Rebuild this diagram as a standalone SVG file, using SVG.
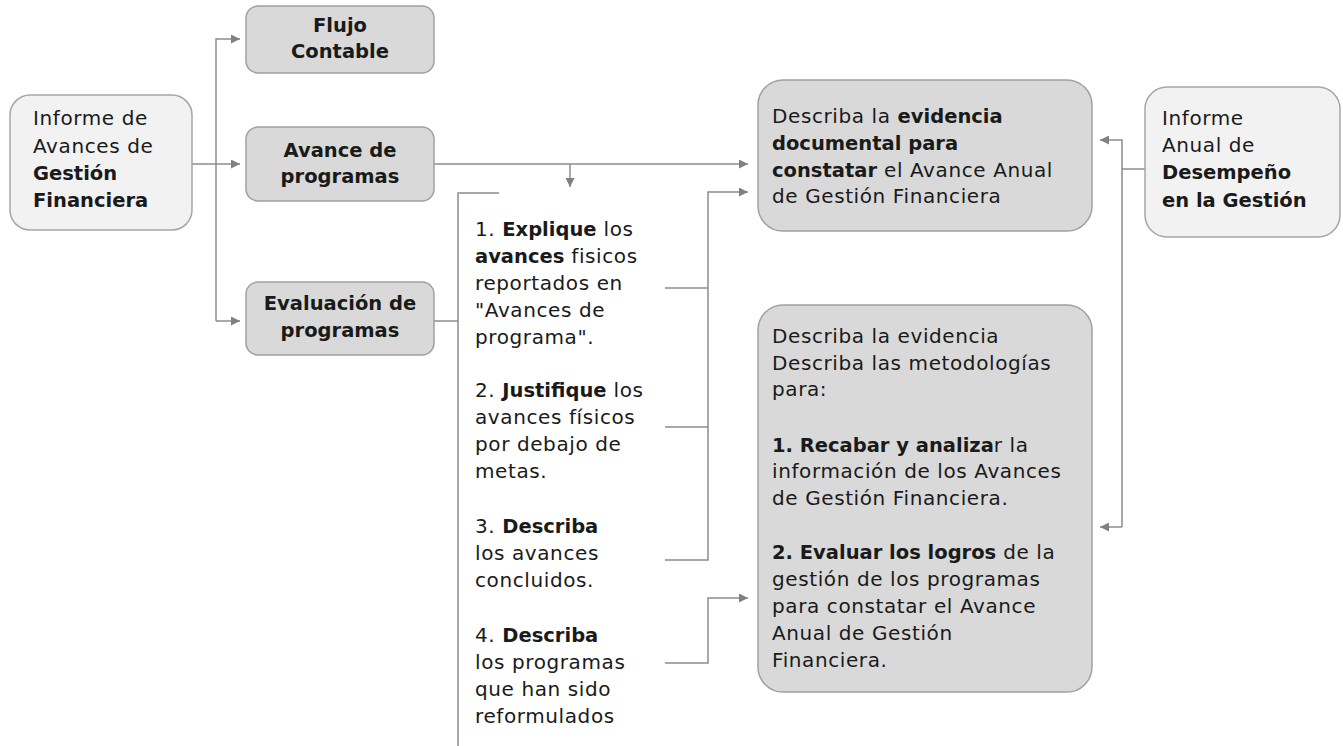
<svg xmlns="http://www.w3.org/2000/svg" width="1343" height="746" viewBox="0 0 1343 746">
<defs>
<style>
.t{font-family:"DejaVu Sans","Noto Sans","Liberation Sans",sans-serif;font-size:20px;letter-spacing:0.6px;fill:#1a1a1a}
.b{font-weight:700;font-size:19.5px;letter-spacing:0}
.c{text-anchor:middle;font-weight:700;font-size:19.5px;letter-spacing:0}
.light{fill:#f2f2f2;stroke:#a6a6a6;stroke-width:1.5}
.dark{fill:#d9d9d9;stroke:#a0a0a0;stroke-width:1.5}
.ln{fill:none;stroke:#8c8c8c;stroke-width:1.5}
</style>
<marker id="ah" viewBox="0 0 10 10" refX="10" refY="5" markerWidth="9" markerHeight="9" markerUnits="userSpaceOnUse" orient="auto">
<path d="M0,0 L10,5 L0,10 z" fill="#808080"/>
</marker>
</defs>
<rect width="1343" height="746" fill="#ffffff"/>

<g id="connectors">
<path class="ln" d="M192,164 L240,164" marker-end="url(#ah)"/>
<path class="ln" d="M216,321 L216,39 L240,39" marker-end="url(#ah)"/>
<path class="ln" d="M216,321 L240,321" marker-end="url(#ah)"/>
<path class="ln" d="M434,164 L748,164" marker-end="url(#ah)"/>
<path class="ln" d="M570,164 L570,187" marker-end="url(#ah)"/>
<path class="ln" d="M434,321 L458,321"/>
<path class="ln" d="M499,193 L458,193 L458,746"/>
<path class="ln" d="M665,288 L708,288"/>
<path class="ln" d="M665,427 L708,427"/>
<path class="ln" d="M665,560 L708,560 L708,192 L748,192" marker-end="url(#ah)"/>
<path class="ln" d="M665,663 L708,663 L708,598 L748,598" marker-end="url(#ah)"/>
<path class="ln" d="M1145,169 L1122,169"/>
<path class="ln" d="M1122,527 L1122,140 L1100,140" marker-end="url(#ah)"/>
<path class="ln" d="M1122,527 L1100,527" marker-end="url(#ah)"/>
</g>

<g id="informe-avances">
<rect class="light" x="10" y="95" width="182" height="135" rx="20"/>
<text class="t" x="33" y="125">Informe de</text>
<text class="t" x="33" y="153">Avances de</text>
<text class="t b" x="33" y="180">Gestión</text>
<text class="t b" x="33" y="207">Financiera</text>
</g>

<g id="flujo-contable">
<rect class="dark" x="246" y="6" width="188" height="67" rx="12"/>
<text class="t c" x="340" y="32">Flujo</text>
<text class="t c" x="340" y="58">Contable</text>
</g>

<g id="avance-programas">
<rect class="dark" x="246" y="127" width="188" height="74" rx="12"/>
<text class="t c" x="340" y="157">Avance de</text>
<text class="t c" x="340" y="183">programas</text>
</g>

<g id="evaluacion-programas">
<rect class="dark" x="246" y="282" width="188" height="73" rx="12"/>
<text class="t c" x="340" y="310">Evaluación de</text>
<text class="t c" x="340" y="337">programas</text>
</g>

<g id="lista">
<text class="t" x="475" y="236">1. <tspan class="b">Explique</tspan> los</text>
<text class="t" x="475" y="263"><tspan class="b">avances</tspan> fisicos</text>
<text class="t" x="475" y="290">reportados en</text>
<text class="t" x="475" y="317">"Avances de</text>
<text class="t" x="475" y="344">programa".</text>
<text class="t" x="475" y="397">2. <tspan class="b">Justifique</tspan> los</text>
<text class="t" x="475" y="424">avances físicos</text>
<text class="t" x="475" y="451">por debajo de</text>
<text class="t" x="475" y="478">metas.</text>
<text class="t" x="475" y="533">3. <tspan class="b">Describa</tspan></text>
<text class="t" x="475" y="560">los avances</text>
<text class="t" x="475" y="587">concluidos.</text>
<text class="t" x="475" y="642">4. <tspan class="b">Describa</tspan></text>
<text class="t" x="475" y="669">los programas</text>
<text class="t" x="475" y="696">que han sido</text>
<text class="t" x="475" y="723">reformulados</text>
</g>

<g id="evidencia-documental">
<rect class="dark" x="758" y="80" width="334" height="151" rx="25"/>
<text class="t" x="772" y="123">Describa la <tspan class="b">evidencia</tspan></text>
<text class="t b" x="772" y="150">documental para</text>
<text class="t" x="772" y="177"><tspan class="b">constatar</tspan> el Avance Anual</text>
<text class="t" x="772" y="203">de Gestión Financiera</text>
</g>

<g id="metodologias">
<rect class="dark" x="758" y="305" width="334" height="387" rx="25"/>
<text class="t" x="772" y="343">Describa la evidencia</text>
<text class="t" x="772" y="370">Describa las metodologías</text>
<text class="t" x="772" y="396">para:</text>
<text class="t" x="772" y="452"><tspan class="b">1. Recabar y analiza</tspan>r la</text>
<text class="t" x="772" y="478">información de los Avances</text>
<text class="t" x="772" y="505">de Gestión Financiera.</text>
<text class="t" x="772" y="559"><tspan class="b">2. Evaluar los logros</tspan> de la</text>
<text class="t" x="772" y="586">gestión de los programas</text>
<text class="t" x="772" y="613">para constatar el Avance</text>
<text class="t" x="772" y="640">Anual de Gestión</text>
<text class="t" x="772" y="667">Financiera.</text>
</g>

<g id="informe-anual">
<rect class="light" x="1145" y="87" width="195" height="150" rx="22"/>
<text class="t" x="1162" y="125">Informe</text>
<text class="t" x="1162" y="152">Anual de</text>
<text class="t b" x="1162" y="179">Desempeño</text>
<text class="t b" x="1162" y="207">en la Gestión</text>
</g>
</svg>
